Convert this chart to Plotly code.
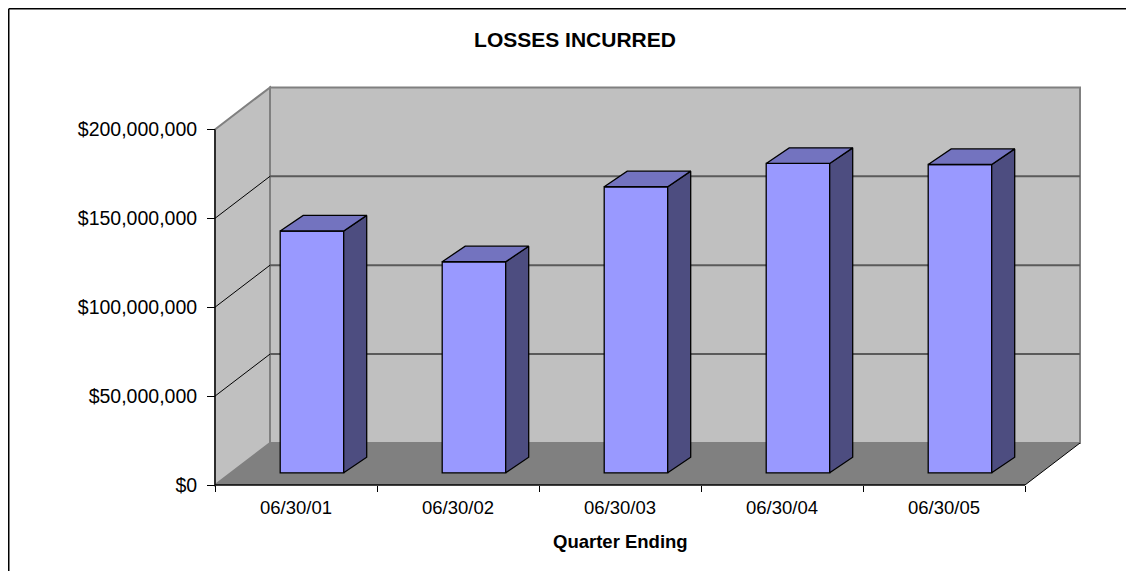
import plotly.graph_objects as go

# ---------------- data ----------------
categories = ["06/30/01", "06/30/02", "06/30/03", "06/30/04", "06/30/05"]
losses = [136.0e6, 118.7e6, 160.9e6, 174.0e6, 173.4e6]
y_tickvals = [0, 50e6, 100e6, 150e6, 200e6]
y_ticktext = ["$0", "$50,000,000", "$100,000,000", "$150,000,000", "$200,000,000"]
title_text = "LOSSES INCURRED"
x_title_text = "Quarter Ending"

# ---------------- layout / style constants ----------------
OFF = 8                          # page body margin offset
W, H = 1135 - 2 * OFF, 580 - 2 * OFF
X0_PX, XS = 215 - OFF, 162.0     # pixel of x=0, pixels per category
Y0_PX, YS = 485 - OFF, 1.778e-6  # pixel of y=0, pixels per dollar
ML = X0_PX - 4
MT = int(87.4 - OFF) - 4
MR = W - (1080 - OFF) - 4
MB = H - Y0_PX - 4
PW, PH = W - ML - MR, H - MT - MB

x_min = -(X0_PX - ML) / XS
x_max = x_min + PW / XS
y_min = -((H - MB) - Y0_PX) / YS
y_max = y_min + PH / YS

WALL_DX, WALL_DY = 55 / XS, 42 / YS      # oblique depth offset of walls
BAR_Z = 0.29                              # bar front face depth fraction
BAR_W = 63.5 / XS
BAR_DX, BAR_DY = 23 / XS, 15.6 / YS       # bar depth offset
Y_TOP = y_tickvals[-1]
N = len(categories)

FONT = "Liberation Sans, Arial, sans-serif"


def px_to_paper_x(px):
    return (px - ML) / PW


def px_to_paper_y(py):
    return ((H - MB) - py) / PH


def path(points, close=True):
    return "M " + " L ".join(f"{x},{y}" for x, y in points) + (" Z" if close else "")


shapes = []
# left side wall
shapes.append(dict(type="path", xref="x", yref="y", layer="below",
                   path=path([(0, 0), (0, Y_TOP), (WALL_DX, Y_TOP + WALL_DY), (WALL_DX, WALL_DY)]),
                   fillcolor="#C0C0C0", line=dict(color="#808080", width=2)))
# back wall
shapes.append(dict(type="path", xref="x", yref="y", layer="below",
                   path=path([(WALL_DX, WALL_DY), (WALL_DX, Y_TOP + WALL_DY),
                              (N + WALL_DX, Y_TOP + WALL_DY), (N + WALL_DX, WALL_DY)]),
                   fillcolor="#C0C0C0", line=dict(color="#808080", width=2)))
# gridlines
for v in y_tickvals[1:-1]:
    shapes.append(dict(type="line", xref="x", yref="y", layer="below",
                       x0=WALL_DX, y0=v + WALL_DY, x1=N + WALL_DX, y1=v + WALL_DY,
                       line=dict(color="#5A5A5A", width=2)))
    shapes.append(dict(type="line", xref="x", yref="y", layer="below",
                       x0=0, y0=v, x1=WALL_DX, y1=v + WALL_DY,
                       line=dict(color="#000000", width=1)))
# floor
shapes.append(dict(type="path", xref="x", yref="y", layer="below",
                   path=path([(0, 0), (N, 0), (N + WALL_DX, WALL_DY), (WALL_DX, WALL_DY)]),
                   fillcolor="#808080", line=dict(width=0)))
# floor right edge, front edge, front vertical axis line
shapes.append(dict(type="line", xref="x", yref="y", layer="below",
                   x0=N, y0=0, x1=N + WALL_DX, y1=WALL_DY, line=dict(color="#000000", width=1)))
shapes.append(dict(type="line", xref="x", yref="y", layer="above",
                   x0=0, y0=0, x1=N, y1=0, line=dict(color="#000000", width=1.3)))
shapes.append(dict(type="line", xref="x", yref="y", layer="above",
                   x0=0, y0=0, x1=0, y1=Y_TOP, line=dict(color="#000000", width=1.3)))
# outer chart-area border: only its top and left edges fall inside the view
shapes.append(dict(type="line", xref="paper", yref="paper",
                   x0=px_to_paper_x(0.75), y0=px_to_paper_y(0.75),
                   x1=px_to_paper_x(W - 1), y1=px_to_paper_y(0.75),
                   line=dict(color="#000000", width=1.5)))
shapes.append(dict(type="line", xref="paper", yref="paper",
                   x0=px_to_paper_x(0.75), y0=px_to_paper_y(0.75),
                   x1=px_to_paper_x(0.75), y1=px_to_paper_y(H - 1),
                   line=dict(color="#000000", width=1.5)))

# ---------------- bars ----------------
shift_x = BAR_Z * WALL_DX
base_y = BAR_Z * WALL_DY
centers = [i + 0.5 + shift_x for i in range(N)]

fig = go.Figure()
fig.add_trace(go.Bar(x=centers, y=losses, base=[base_y] * N, width=BAR_W,
                     marker=dict(color="#9999FF", line=dict(color="#000000", width=1.3)),
                     hoverinfo="skip", showlegend=False))

top_x, top_y, side_x, side_y = [], [], [], []
for c, v in zip(centers, losses):
    xl, xr = c - BAR_W / 2, c + BAR_W / 2
    yt = base_y + v
    top_x += [xl, xr, xr + BAR_DX, xl + BAR_DX, xl, None]
    top_y += [yt, yt, yt + BAR_DY, yt + BAR_DY, yt, None]
    side_x += [xr, xr, xr + BAR_DX, xr + BAR_DX, xr, None]
    side_y += [base_y, yt, yt + BAR_DY, base_y + BAR_DY, base_y, None]

fig.add_trace(go.Scatter(x=side_x, y=side_y, mode="lines", fill="toself",
                         fillcolor="#4D4D80", line=dict(color="#000000", width=1.3),
                         hoverinfo="skip", showlegend=False))
fig.add_trace(go.Scatter(x=top_x, y=top_y, mode="lines", fill="toself",
                         fillcolor="#7373BF", line=dict(color="#000000", width=1.3),
                         hoverinfo="skip", showlegend=False))

fig.update_layout(
    width=W, height=H,
    margin=dict(l=ML, r=MR, t=MT, b=MB, autoexpand=False),
    paper_bgcolor="white", plot_bgcolor="white",
    shapes=shapes,
    showlegend=False,
    title=dict(text=title_text, x=(575 - OFF) / W, y=1 - (40 - OFF) / H, xref="container", yref="container",
               xanchor="center", yanchor="middle",
               font=dict(family=FONT, size=21, color="#000000", weight="bold")),
    xaxis=dict(range=[x_min, x_max], anchor="free", position=px_to_paper_y(Y0_PX),
               tickmode="array", tickvals=[i + 0.5 for i in range(N)], ticktext=categories,
               ticks="outside", ticklen=6, tickcolor="rgba(0,0,0,0)",
               minor=dict(tickmode="array", tickvals=list(range(N + 1)), ticks="outside",
                          ticklen=6, tickwidth=1.3, tickcolor="#000000", showgrid=False),
               showgrid=False, zeroline=False, showline=False, fixedrange=True,
               tickfont=dict(family=FONT, size=18.5, color="#000000")),
    yaxis=dict(range=[y_min, y_max], anchor="free", position=px_to_paper_x(X0_PX),
               tickmode="array", tickvals=y_tickvals, ticktext=y_ticktext,
               ticks="outside", ticklen=8, tickwidth=1.3, tickcolor="#000000",
               ticklabelstandoff=6,
               showgrid=False, zeroline=False, showline=False, fixedrange=True,
               tickfont=dict(family=FONT, size=19.5, color="#000000")),
    annotations=[dict(text=x_title_text, xref="x", yref="paper", x=N / 2, y=px_to_paper_y(541.7 - OFF),
                      xanchor="center", yanchor="middle", showarrow=False,
                      font=dict(family=FONT, size=18.5, color="#000000", weight="bold"))],
)

fig.write_html("out.html")
